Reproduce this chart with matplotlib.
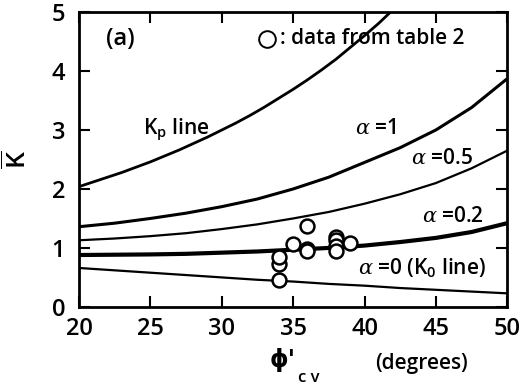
import numpy as np
import matplotlib
matplotlib.use('Agg')
import matplotlib.pyplot as plt

# friction angle (deg) at which the curves were read
phi = [20, 22.5, 25, 27.5, 30, 32.5, 35, 37.5, 40, 42.5, 45, 47.5, 50]

# curves
kp_phi = [20, 21, 22, 23, 24, 25, 26, 27, 28, 29, 30, 31, 32, 33, 34, 35,
          36, 37, 38, 39, 40, 41, 42, 43]
kp = [2.04, 2.12, 2.20, 2.28, 2.37, 2.46, 2.56, 2.66, 2.77, 2.88, 3.00,
      3.12, 3.25, 3.39, 3.54, 3.69, 3.85, 4.02, 4.20, 4.40, 4.60, 4.81,
      5.04, 5.29]
k_a1 = [1.36, 1.42, 1.50, 1.59, 1.70, 1.83, 2.00, 2.20, 2.45, 2.70, 3.00, 3.38, 3.87]
k_a05 = [1.13, 1.16, 1.20, 1.25, 1.32, 1.40, 1.50, 1.61, 1.75, 1.91, 2.10, 2.35, 2.65]
k_a02 = [0.88, 0.885, 0.89, 0.90, 0.92, 0.94, 0.97, 1.00, 1.04, 1.10, 1.17, 1.27, 1.42]
k_a0 = [0.66, 0.62, 0.58, 0.54, 0.50, 0.46, 0.43, 0.39, 0.36, 0.32, 0.29, 0.26, 0.23]

# data from table 2
pts_phi = [34, 34, 34, 35, 36, 36, 36, 38, 38, 38, 38, 39]
pts_k = [0.46, 0.72, 0.84, 1.07, 1.37, 0.99, 0.95, 1.19, 1.14, 1.03, 0.95, 1.09]

plt.rcParams['font.family'] = ['Open Sans', 'DejaVu Sans']
plt.rcParams['font.weight'] = 'semibold'
plt.rcParams['mathtext.fontset'] = 'custom'
plt.rcParams['mathtext.rm'] = 'Open Sans:semibold'
plt.rcParams['mathtext.it'] = 'DejaVu Serif:italic:normal'

fig = plt.figure(figsize=(5.24, 3.88), dpi=100)
ax = fig.add_axes([0.151, 0.209, 0.817, 0.760])

ax.plot(kp_phi, kp, color='black', lw=2.0)
ax.plot(phi, k_a1, color='black', lw=2.2)
ax.plot(phi, k_a05, color='black', lw=1.6)
ax.plot(phi, k_a02, color='black', lw=3.0)
ax.plot(phi, k_a0, color='black', lw=1.6)
ax.plot(pts_phi, pts_k, 'o', ms=10, mfc='white', mec='black', mew=1.8, zorder=5)

ax.set_xlim(20, 50)
ax.set_ylim(0, 5)
ax.set_xticks([20, 25, 30, 35, 40, 45, 50])
ax.set_yticks([0, 1, 2, 3, 4, 5])
ax.tick_params(direction='in', length=8, width=1.5, top=True, right=True,
               labelsize=17)
ax.tick_params(axis='y', pad=10)
ax.tick_params(axis='x', pad=7)
for s in ax.spines.values():
    s.set_linewidth(2)

ax.text(21.9, 4.55, '(a)', fontsize=17, ha='left', va='center')
ax.plot([33.15], [4.55], 'o', ms=12, mfc='white', mec='black', mew=1.4,
        clip_on=False)
ax.text(34.05, 4.55, ': data from table 2', fontsize=15, ha='left', va='center')

ax.text(26.8, 3.02, r'K$_\mathrm{p}$ line', fontsize=15, ha='center', va='center')
ax.text(40.75, 3.03, r'$\alpha$ =1', fontsize=15, ha='center', va='center')
ax.text(45.4, 2.52, r'$\alpha$ =0.5', fontsize=15, ha='center', va='center')
ax.text(46.2, 1.53, r'$\alpha$ =0.2', fontsize=15, ha='center', va='center')
ax.text(44.0, 0.66, r'$\alpha$ =0 (K$_\mathrm{0}$ line)', fontsize=15,
        ha='center', va='center')

ax.set_ylabel(r'$\overline{\mathrm{K}}$', fontsize=19, labelpad=14)
fig.text(0.540, 0.072, "\u03d5'", fontsize=17, ha='center', va='center',
         family=['DejaVu Sans'])
fig.text(0.590, 0.026, 'c v', fontsize=12, ha='center', va='center')
fig.text(0.805, 0.064, '(degrees)', fontsize=15, ha='center', va='center')

fig.savefig('out.png', dpi=100)
